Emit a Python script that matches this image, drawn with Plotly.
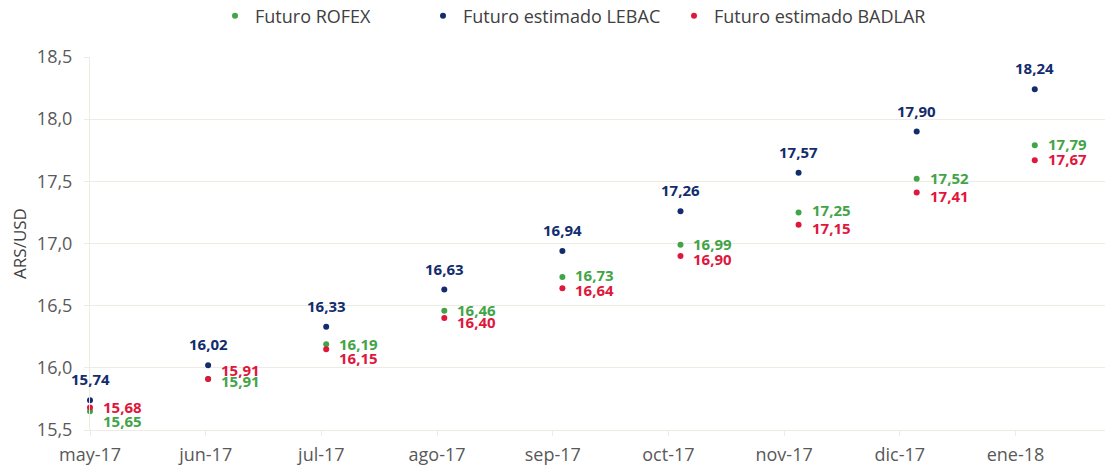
import plotly.graph_objects as go

months = ["may-17", "jun-17", "jul-17", "ago-17", "sep-17", "oct-17", "nov-17", "dic-17", "ene-18"]
rofex = [15.65, 15.91, 16.19, 16.46, 16.73, 16.99, 17.25, 17.52, 17.79]
lebac = [15.74, 16.02, 16.33, 16.63, 16.94, 17.26, 17.57, 17.90, 18.24]
badlar = [15.68, 15.91, 16.15, 16.40, 16.64, 16.90, 17.15, 17.41, 17.67]

GREEN = "#43A447"
NAVY = "#122C6C"
RED = "#E0173D"
GRID = "#EDEBE2"
FONT = "Open Sans"

# page body has an 8px margin; figure is sized to fill the rest of the window
W, H, OFF = 1105, 464, 8

# vertical pixel offsets of the value labels (to avoid overlaps)
rofex_shift = [-10, -2, 0, 1, 2, 1, 2, 1, 1]
badlar_shift = [1, 9, -9, -4, -2, -3, -3, -3, 1]

fig = go.Figure()

series = [
    ("Futuro ROFEX", rofex, GREEN, "legend"),
    ("Futuro estimado LEBAC", lebac, NAVY, "legend2"),
    ("Futuro estimado BADLAR", badlar, RED, "legend3"),
]
for name, vals, col, lg in series:
    fig.add_trace(go.Scatter(
        x=months, y=vals, name=name, mode="markers",
        marker=dict(color=col, size=6), xaxis="x", yaxis="y",
        legend=lg, hoverinfo="x+y+name", cliponaxis=False,
    ))

# invisible trace to register categories on the labelled axis
fig.add_trace(go.Scatter(
    x=months, y=lebac, mode="markers", marker=dict(opacity=0),
    xaxis="x2", yaxis="y", showlegend=False, hoverinfo="skip",
))

annotations = []
def fmt(v):
    return f"{v:.2f}".replace(".", ",")

for i, m in enumerate(months):
    annotations.append(dict(
        x=m, y=lebac[i], xref="x", yref="y", text=fmt(lebac[i]),
        showarrow=False, xanchor="center", yanchor="middle", yshift=21,
        font=dict(family=FONT, size=15, color=NAVY, weight="bold"),
    ))
    annotations.append(dict(
        x=m, y=rofex[i], xref="x", yref="y", text=fmt(rofex[i]),
        showarrow=False, xanchor="left", yanchor="middle", xshift=11, yshift=rofex_shift[i],
        font=dict(family=FONT, size=15, color=GREEN, weight="bold"),
    ))
    annotations.append(dict(
        x=m, y=badlar[i], xref="x", yref="y", text=fmt(badlar[i]),
        showarrow=False, xanchor="left", yanchor="middle", xshift=11, yshift=badlar_shift[i],
        font=dict(family=FONT, size=15, color=RED, weight="bold"),
    ))

legend_common = dict(
    orientation="h", xref="container", yref="container", yanchor="middle",
    xanchor="left", y=1 - (16 - OFF) / H, font=dict(family=FONT, size=18, color="#404040"),
    bgcolor="rgba(0,0,0,0)", itemwidth=30,
)

fig.update_layout(
    width=W, height=H,
    margin=dict(l=90 - OFF, r=5, t=57 - OFF, b=42, autoexpand=False),
    plot_bgcolor="white", paper_bgcolor="white",
    separators=",.",
    font=dict(family=FONT, color="#595959"),
    xaxis=dict(
        type="category", categoryorder="array", categoryarray=months,
        range=[0, 8.62], showticklabels=False, ticks="", showgrid=False,
        showline=False, zeroline=False,
    ),
    xaxis2=dict(
        type="category", categoryorder="array", categoryarray=months,
        overlaying="x", anchor="y", side="bottom",
        range=[0, 8.8], showgrid=False, showline=True, linecolor=GRID, linewidth=1,
        ticks="outside", ticklen=5, tickcolor=GRID,
        tickfont=dict(family=FONT, size=18, color="#595959"), ticklabelstandoff=3,
    ),
    yaxis=dict(
        range=[15.5, 18.5], dtick=0.5, tick0=15.5, tickformat=".1f",
        showgrid=True, gridcolor=GRID, gridwidth=1, zeroline=False,
        showline=True, linecolor=GRID, linewidth=1,
        ticks="outside", ticklen=5, tickcolor=GRID,
        tickfont=dict(family=FONT, size=18, color="#595959"), ticklabelstandoff=8,
        title=dict(text="ARS/USD", font=dict(family=FONT, size=17, color="#404040"), standoff=12),
    ),
    legend=dict(legend_common, x=(215 - OFF) / W),
    legend2=dict(legend_common, x=(423 - OFF) / W),
    legend3=dict(legend_common, x=(674 - OFF) / W),
    annotations=annotations,
    hovermode="closest",
)

fig.write_html("out.html")
